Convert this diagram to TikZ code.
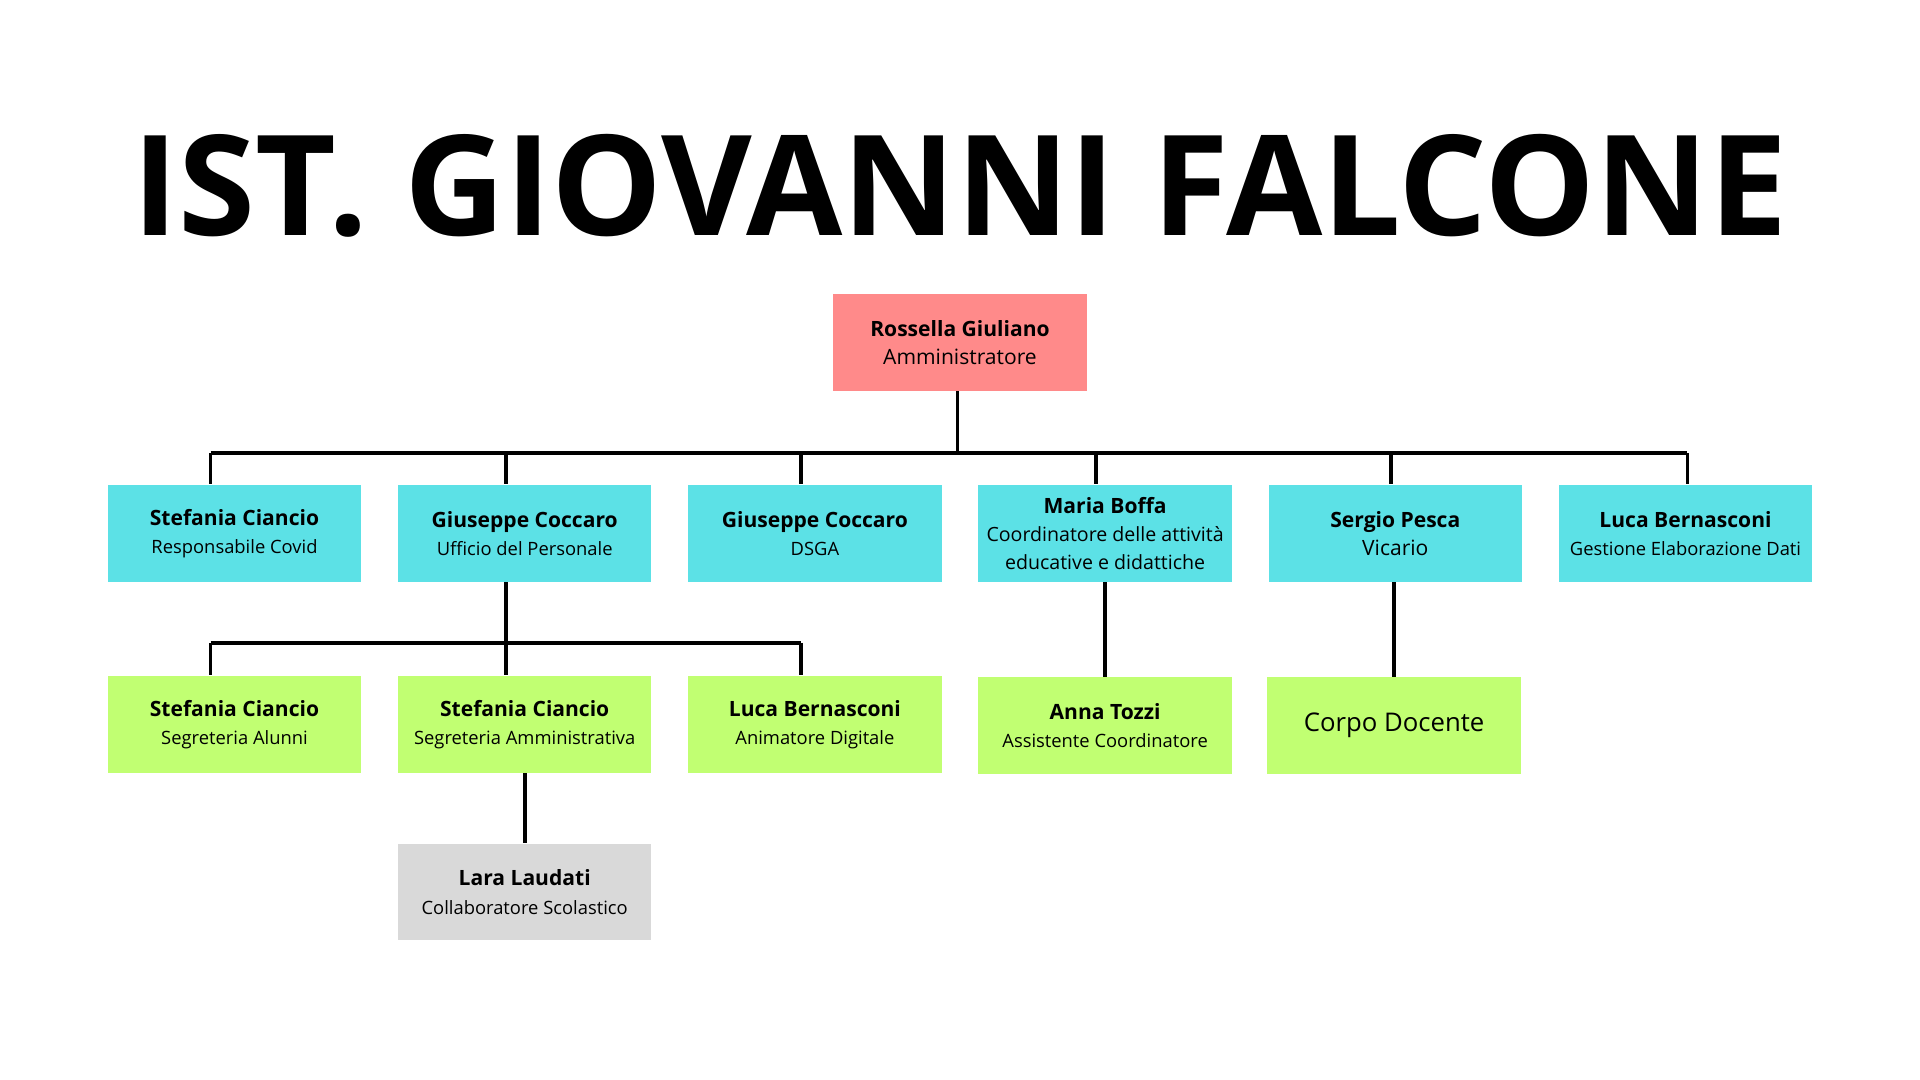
\documentclass[tikz,border=0pt]{standalone}
\usepackage{fontspec}
\setmainfont{Open Sans}
\usetikzlibrary{positioning}
\definecolor{capo}{HTML}{FF8A8A}
\definecolor{staff}{HTML}{5CE1E6}
\definecolor{sotto}{HTML}{C1FF72}
\definecolor{base}{HTML}{D9D9D9}
\tikzset{
  box/.style={minimum width=103.5pt,minimum height=39.5pt,inner sep=1pt,align=center,font=\fontsize{7.5pt}{11.5pt}\selectfont},
  link/.style={line width=1.5pt}
}
\newcommand{\who}[2]{{\fontsize{8.6pt}{11pt}\selectfont\bfseries #1}\\#2}

\begin{document}
\begin{tikzpicture}[x=0.5pt,y=-0.5pt]
	\useasboundingbox (0,0) rectangle (1568,882);
	\node at (784,152) {\fontsize{57pt}{60pt}\selectfont\bfseries IST. GIOVANNI FALCONE};
	% vertice
	\node [box,fill=capo] (admin) at (784,279.5) {\who{Rossella Giuliano}{\fontsize{8.6pt}{11pt}\selectfont Amministratore}};
	% primo livello
	\node [box,fill=staff] (covid) at (191.5,435.5) {\who{Stefania Ciancio}{Responsabile Covid}};
	\node [box,fill=staff] (pers) at (428.5,435.5) {\who{Giuseppe Coccaro}{Ufficio del Personale}};
	\node [box,fill=staff] (dsga) at (665.5,435.5) {\who{Giuseppe Coccaro}{DSGA}};
	\node [box,fill=staff] (coord) at (902.5,435.5) {\who{Maria Boffa}{\fontsize{8pt}{11.5pt}\selectfont Coordinatore delle attività\\\fontsize{8pt}{11.5pt}\selectfont educative e didattiche}};
	\node [box,fill=staff] (vic) at (1139.5,435.5) {\who{Sergio Pesca}{\fontsize{8.6pt}{11pt}\selectfont Vicario}};
	\node [box,fill=staff] (dati) at (1376.5,435.5) {\who{Luca Bernasconi}{Gestione Elaborazione Dati}};
	% secondo livello
	\node [box,fill=sotto] (alunni) at (191.5,591.5) {\who{Stefania Ciancio}{Segreteria Alunni}};
	\node [box,fill=sotto] (ammin) at (428.5,591.5) {\who{Stefania Ciancio}{Segreteria Amministrativa}};
	\node [box,fill=sotto] (digit) at (665.5,591.5) {\who{Luca Bernasconi}{Animatore Digitale}};
	\node [box,fill=sotto] (assist) at (902.5,592.5) {\who{Anna Tozzi}{Assistente Coordinatore}};
	\node [box,fill=sotto,font=\fontsize{10.5pt}{12pt}\selectfont] (docenti) at (1138.5,592.5) {Corpo Docente};
	% terzo livello
	\node [box,fill=base] (colla) at (428.5,728.5) {\who{Lara Laudati}{Collaboratore Scolastico}};
	% collegamenti
	\coordinate (bus) at (782,370);
	\coordinate (bus2) at (413,525);
	\draw [link] (admin.south -| bus) -- (bus);
	\draw [link] (172,370) -- (1378,370);
	\foreach \n/\x in {covid/172,pers/413,dsga/654,coord/895,vic/1136,dati/1378}
		\draw [link] (\x,370) -- (\n.north -| {(\x,0)});
	\draw [link] (pers.south -| bus2) -- (bus2);
	\draw [link] (172,525) -- (654,525);
	\foreach \n/\x in {alunni/172,ammin/413,digit/654}
		\draw [link] (\x,525) -- (\n.north -| {(\x,0)});
	\draw [link] (ammin) -- (colla);
	\draw [link] (coord) -- (assist);
	\draw [link] (vic.south -| docenti) -- (docenti);
\end{tikzpicture}
\end{document}
